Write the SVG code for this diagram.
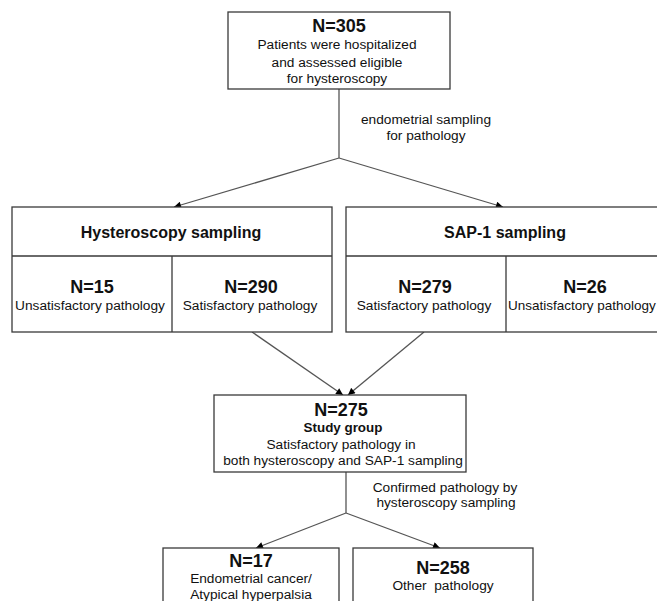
<svg xmlns="http://www.w3.org/2000/svg" width="657" height="601" viewBox="0 0 657 601">
<defs>
<marker id="ah" viewBox="0 0 10 10" refX="10" refY="5" markerWidth="9" markerHeight="7" markerUnits="userSpaceOnUse" orient="auto">
<path d="M0,0 L10,5 L0,10 z" fill="#000"/>
</marker>
<style>
.box{fill:#fff;stroke:#3a3a3a;stroke-width:1.3}
.ln{fill:none;stroke:#555;stroke-width:1.3}
text{font-family:"Liberation Sans",Arial,sans-serif;fill:#111;text-anchor:middle}
.n{font-size:18px;font-weight:bold}
.h{font-size:16px;font-weight:bold}
.t{font-size:13.7px}
.s{font-size:13.4px;font-weight:bold}
</style>
</defs>
<rect width="657" height="601" fill="#fff"/>
<g id="connectors">
<path class="ln" d="M339,89 L339,158"/>
<path class="ln" d="M339,158 L174,207" marker-end="url(#ah)"/>
<path class="ln" d="M339,158 L503,207" marker-end="url(#ah)"/>
<path class="ln" d="M252,332 L343,395" marker-end="url(#ah)"/>
<path class="ln" d="M424,332 L348,395" marker-end="url(#ah)"/>
<path class="ln" d="M346,472 L346,513"/>
<path class="ln" d="M346,513 L256,548" marker-end="url(#ah)"/>
<path class="ln" d="M346,513 L440,548" marker-end="url(#ah)"/>
<text class="t" x="426" y="124">endometrial sampling</text>
<text class="t" x="426" y="140">for pathology</text>
<text class="t" x="445" y="492">Confirmed pathology by</text>
<text class="t" x="446" y="507">hysteroscopy sampling</text>
</g>
<g id="n305">
<rect class="box" x="228" y="12" width="222" height="77"/>
<text class="n" x="339" y="32">N=305</text>
<text class="t" x="337" y="49">Patients were hospitalized</text>
<text class="t" x="337" y="67">and assessed eligible</text>
<text class="t" x="337" y="83">for hysteroscopy</text>
</g>
<g id="hysteroscopy">
<rect class="box" x="12" y="207" width="320" height="125"/>
<path class="box" d="M12,256 L332,256 M172,256 L172,332"/>
<text class="h" x="171" y="238">Hysteroscopy sampling</text>
<text class="n" x="92" y="293">N=15</text>
<text class="t" x="90" y="310">Unsatisfactory pathology</text>
<text class="n" x="251" y="293">N=290</text>
<text class="t" x="250" y="310">Satisfactory pathology</text>
</g>
<g id="sap1">
<rect class="box" x="346" y="207" width="320" height="125"/>
<path class="box" d="M346,256 L666,256 M506,256 L506,332"/>
<text class="h" x="505" y="238">SAP-1 sampling</text>
<text class="n" x="425" y="293">N=279</text>
<text class="t" x="424" y="310">Satisfactory pathology</text>
<text class="n" x="585" y="293">N=26</text>
<text class="t" x="508" y="310" style="text-anchor:start;font-size:13.5px">Unsatisfactory pathology</text>
</g>
<g id="study">
<rect class="box" x="214" y="395" width="252" height="77"/>
<text class="n" x="341" y="416">N=275</text>
<text class="s" x="343" y="432">Study group</text>
<text class="t" x="341" y="449">Satisfactory pathology in</text>
<text class="t" x="343" y="465">both hysteroscopy and SAP-1 sampling</text>
</g>
<g id="n17">
<rect class="box" x="163" y="548" width="176" height="60"/>
<text class="n" x="251" y="567">N=17</text>
<text class="t" x="251" y="583">Endometrial cancer/</text>
<text class="t" x="251" y="599">Atypical hyperpalsia</text>
</g>
<g id="n258">
<rect class="box" x="353" y="548" width="180" height="60"/>
<text class="n" x="443" y="574">N=258</text>
<text class="t" x="443" y="590" xml:space="preserve">Other  pathology</text>
</g>
</svg>
